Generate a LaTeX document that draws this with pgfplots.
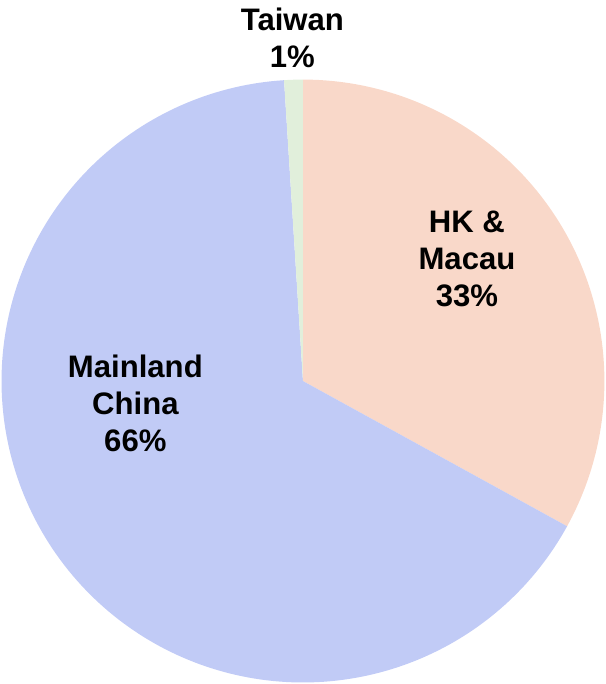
\documentclass[border=0pt]{standalone}
\usepackage{pgfplots}
\pgfplotsset{compat=1.18}
\usepackage{pgfplotstable}
\usepackage{fontspec}
\setmainfont{Liberation Sans}
\definecolor{hkcol}{RGB}{249,216,201}
\definecolor{mlcol}{RGB}{193,203,246}
\definecolor{twcol}{RGB}{225,239,219}
\pgfplotstableread{
label    value
HK       33
Mainland 66
Taiwan   1
}\piedata
\pgfplotstablegetelem{0}{value}\of\piedata \let\vHK\pgfplotsretval
\pgfplotstablegetelem{1}{value}\of\piedata \let\vML\pgfplotsretval
\pgfplotstablegetelem{2}{value}\of\piedata \let\vTW\pgfplotsretval
\pgfmathsetmacro{\aA}{90}
\pgfmathsetmacro{\aB}{\aA-3.6*\vHK}
\pgfmathsetmacro{\aC}{\aB-3.6*\vML}
\pgfmathsetmacro{\aD}{\aC-3.6*\vTW}
\tikzset{pielabel/.style={font=\bfseries\fontsize{31}{37}\selectfont, align=center, inner sep=0pt}}
\begin{document}
\begin{tikzpicture}
\begin{axis}[
  hide axis, scale only axis, clip=false,
  x=300.5pt, y=300.5pt,
  xmin=-1.005, xmax=1.005, ymin=-1.005, ymax=1.26,
]
\path (axis cs:-1.005,-1.005) rectangle (axis cs:1.005,1.264);
\addplot[fill=hkcol, draw=none, domain=\aB:\aA, samples=120, variable=\t] ({cos(t)},{sin(t)}) -- (axis cs:0,0) -- cycle;
\addplot[fill=mlcol, draw=none, domain=\aC:\aB, samples=200, variable=\t] ({cos(t)},{sin(t)}) -- (axis cs:0,0) -- cycle;
\addplot[fill=twcol, draw=none, domain=\aD:\aC, samples=10, variable=\t] ({cos(t)},{sin(t)}) -- (axis cs:0,0) -- cycle;
\node[pielabel] at (axis cs:0.544,0.406) {HK \&\\Macau\\\vHK\%};
\node[pielabel] at (axis cs:-0.556,-0.075) {Mainland\\China\\\vML\%};
\node[pielabel] at (axis cs:-0.035,1.138) {Taiwan\\\vTW\%};
\end{axis}
\end{tikzpicture}
\end{document}
